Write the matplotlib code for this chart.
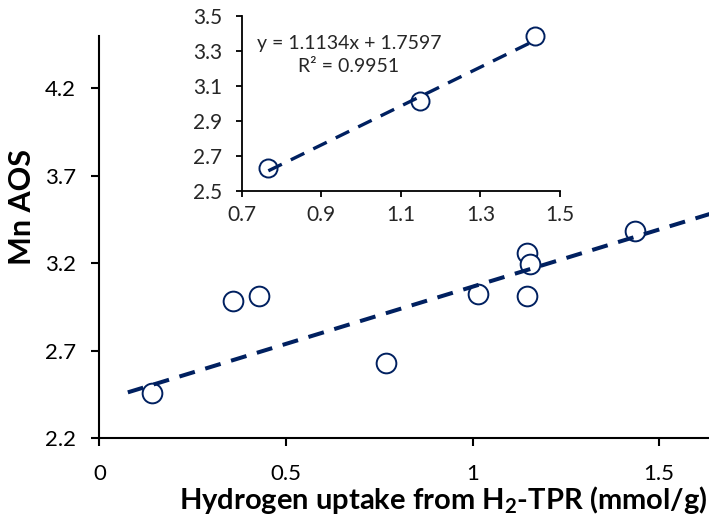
import matplotlib
matplotlib.use("Agg")
import matplotlib.pyplot as plt

plt.rcParams['font.family'] = ['Lato', 'DejaVu Sans']
plt.rcParams['mathtext.fontset'] = 'custom'
plt.rcParams['mathtext.rm'] = 'Lato'
plt.rcParams['mathtext.bf'] = 'Lato:bold'

# main scatter: H2 uptake (mmol/g) vs Mn AOS
h2_uptake = [0.140, 0.359, 0.428, 0.767, 1.016, 1.145, 1.145, 1.154, 1.436]
mn_aos = [2.458, 2.982, 3.011, 2.630, 3.026, 3.011, 3.260, 3.193, 3.384]

# dashed trend line in main plot
trend_x = [0.076, 1.65]
trend_y = [2.461, 3.490]

# inset points and its fit
inset_x = [0.767, 1.147, 1.436]
inset_y = [2.631, 3.012, 3.384]
fit_slope = 1.1134
fit_icpt = 1.7597
fit_r2 = 0.9951

main_xticks = [0, 0.5, 1, 1.5]
main_xlabels = ['0', '0.5', '1', '1.5']
main_yticks = [2.2, 2.7, 3.2, 3.7, 4.2]
inset_xticks = [0.7, 0.9, 1.1, 1.3, 1.5]
inset_yticks = [2.5, 2.7, 2.9, 3.1, 3.3, 3.5]

navy = '#002060'

fig = plt.figure(figsize=(7.09, 5.24), dpi=100)
ax = fig.add_axes([0.1403, 0.1641, 0.8597, 0.7677])

ax.plot(h2_uptake, mn_aos, 'o', ms=14.2, mfc='white', mec=navy, mew=1.4,
        zorder=2, clip_on=False)
ax.plot(trend_x, trend_y, color=navy, lw=2.9, ls=(0, (4, 2.7)), zorder=3)

ax.set_xlim(0, 1.634)
ax.set_ylim(2.2, 4.5)
ax.set_xticks(main_xticks, main_xlabels)
ax.set_yticks(main_yticks, [f'{v:.1f}' for v in main_yticks])
for s in ['top', 'right']:
    ax.spines[s].set_visible(False)
for s in ['left', 'bottom']:
    ax.spines[s].set_linewidth(1.5)
ax.tick_params(direction='out', length=6, width=1.5, labelsize=16, pad=11)
ax.tick_params(axis='x', pad=13)

fig.text(22 / 709, 1 - 207 / 524, 'Mn AOS', rotation=90, ha='center',
         va='center', fontsize=22, fontweight='bold')
fig.text(443 / 709, 1 - 509 / 524,
         r'Hydrogen uptake from H$_\mathbf{2}$-TPR (mmol/g)',
         ha='center', va='baseline', fontsize=21, fontweight='bold')

# inset
ins = fig.add_axes([0.3409, 0.6361, 0.4489, 0.3334])
ins.patch.set_alpha(0)
ins.plot(inset_x, inset_y, 'o', ms=13, mfc='white', mec=navy, mew=1.4,
         zorder=2, clip_on=False)
fx = [inset_x[0], inset_x[-1]]
ins.plot(fx, [fit_slope * v + fit_icpt for v in fx], color=navy, lw=2.4,
         ls=(0, (4.5, 3)), zorder=3)
ins.set_xlim(0.7, 1.5)
ins.set_ylim(2.5, 3.5)
ins.set_xticks(inset_xticks, [f'{v:.1f}' for v in inset_xticks])
ins.set_yticks(inset_yticks, [f'{v:.1f}' for v in inset_yticks])
for s in ['top', 'right']:
    ins.spines[s].set_visible(False)
for s in ['left', 'bottom']:
    ins.spines[s].set_linewidth(1.3)
ins.tick_params(direction='out', length=4, width=1.3, labelsize=15,
                labelcolor='#262626')
ins.tick_params(axis='y', pad=10)
ins.tick_params(axis='x', pad=6)
ins.text(0.337, 0.845, f'y = {fit_slope}x + {fit_icpt}', transform=ins.transAxes,
         ha='center', va='center', fontsize=14, color='#262626')
ins.text(0.337, 0.708, f'R² = {fit_r2}', transform=ins.transAxes,
         ha='center', va='center', fontsize=14, color='#262626')

fig.savefig('out.png', dpi=100)
